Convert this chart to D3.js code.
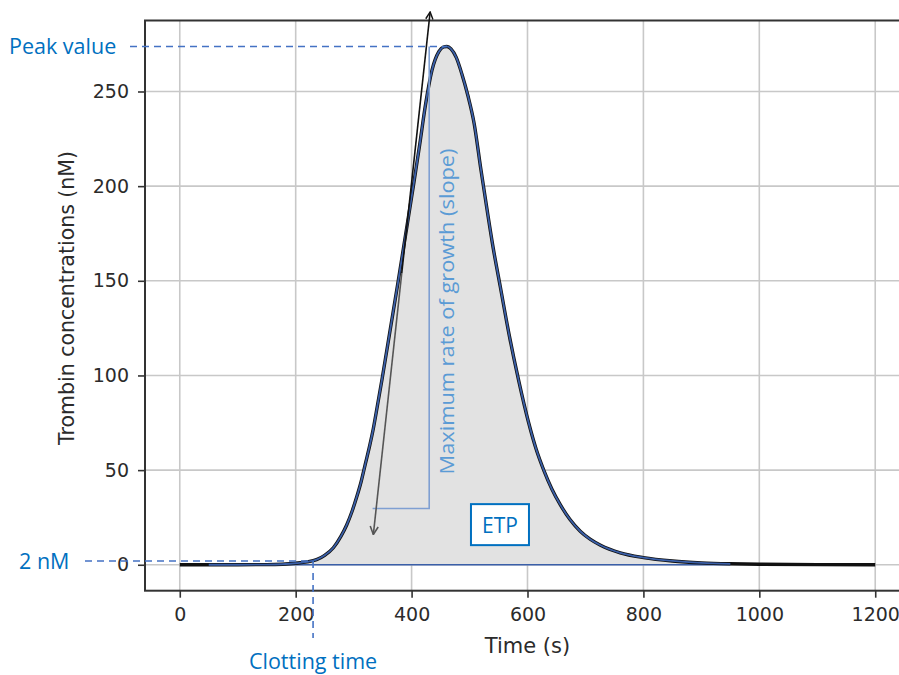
<!DOCTYPE html>
<html>
<head>
<meta charset="utf-8">
<script src="https://cdn.jsdelivr.net/npm/d3@7"></script>
<style>
  body { margin: 0; background: #fff; }
  svg { display: block; }
</style>
</head>
<body>
<div id="chart"></div>
<script>
// thrombin generation curve
const timeS = [0, 50, 100, 150, 200, 220, 236, 250, 265, 278, 288, 297, 305, 313, 320, 327, 334, 341, 349, 363, 377, 390, 403, 414, 424, 435, 447, 455, 461, 468, 477, 487, 497, 508, 519, 530, 541, 553, 568, 585, 602, 615, 628, 642, 657, 673, 691, 708, 726, 760, 800, 850, 900, 950, 1000, 1100, 1200];
const thrombin = [0, 0, 0, 0.1, 0.8, 1.5, 2.7, 5, 9, 15, 21, 28, 35.5, 44, 53, 62, 72, 84, 98, 124, 150, 175, 200, 222, 243, 261, 271, 273.5, 273.8, 272.5, 268, 259, 248, 233, 210, 188, 167, 147, 122, 97, 75, 61, 50, 40, 31.5, 24, 17.7, 13.5, 10.3, 6.3, 3.8, 2, 1, 0.5, 0.25, 0.1, 0];
const xTicks = [0, 200, 400, 600, 800, 1000, 1200];
const yTicks = [0, 50, 100, 150, 200, 250];

// annotation anchors (data units)
const clottingTime = 230;
const threshold = 2;
const fitStart = 40, fitEnd = 950;

(function() {
    const W = 899, H = 675;
    const plot = {left: 145, right: 910, top: 20.5, bottom: 590.7};

    const svg = d3.select("#chart").append("svg")
        .attr("width", W).attr("height", H);

    const x = d3.scaleLinear().domain([-60, 1260]).range([plot.left, plot.right]);
    const y = d3.scaleLinear().domain([-13.7, 287.5]).range([plot.bottom, plot.top]);

    const data = timeS.map((t, i) => ({t: t, v: thrombin[i]}));
    const peak = data.reduce((a, b) => b.v > a.v ? b : a);

    const defs = svg.append("defs");
    defs.append("marker").attr("id", "arrBlack")
        .attr("viewBox", "0 0 10 10").attr("refX", 9).attr("refY", 5)
        .attr("markerWidth", 9).attr("markerHeight", 9).attr("markerUnits", "userSpaceOnUse")
        .attr("orient", "auto-start-reverse")
        .append("path").attr("d", "M1,1 L9,5 L1,9").attr("fill", "none")
        .attr("stroke", "#111").attr("stroke-width", 1.6);
    defs.append("marker").attr("id", "arrGray")
        .attr("viewBox", "0 0 10 10").attr("refX", 9).attr("refY", 5)
        .attr("markerWidth", 10).attr("markerHeight", 10).attr("markerUnits", "userSpaceOnUse")
        .attr("orient", "auto-start-reverse")
        .append("path").attr("d", "M1,1 L9,5 L1,9").attr("fill", "none")
        .attr("stroke", "#555").attr("stroke-width", 1.6);

    // grid
    svg.append("g").selectAll("line").data(xTicks).enter().append("line")
        .attr("x1", d => x(d)).attr("x2", d => x(d))
        .attr("y1", plot.top).attr("y2", plot.bottom)
        .attr("stroke", "#c8c8c8").attr("stroke-width", 1.6);
    svg.append("g").selectAll("line").data(yTicks).enter().append("line")
        .attr("x1", plot.left).attr("x2", plot.right)
        .attr("y1", d => y(d)).attr("y2", d => y(d))
        .attr("stroke", "#c8c8c8").attr("stroke-width", 1.6);

    // shaded area (ETP)
    const fitData = data.filter(d => d.t >= fitStart && d.t <= fitEnd);
    svg.append("path").datum(data.filter(d => d.t >= 200 && d.t <= fitEnd))
        .attr("fill", "#e2e2e2")
        .attr("d", d3.area().x(d => x(d.t)).y0(y(0)).y1(d => y(d.v)).curve(d3.curveMonotoneX));

    // axes
    const axFont = "'DejaVu Sans', sans-serif";
    const gx = svg.append("g").attr("transform", `translate(0,${plot.bottom})`)
        .call(d3.axisBottom(x).tickValues(xTicks).tickFormat(d3.format("d")).tickSize(7).tickPadding(10));
    const gy = svg.append("g").attr("transform", `translate(${plot.left},0)`)
        .call(d3.axisLeft(y).tickValues(yTicks).tickFormat(d3.format("d")).tickSize(7).tickPadding(9));
    [gx, gy].forEach(g => {
        g.select(".domain").remove();
        g.selectAll("line").attr("stroke", "#333").attr("stroke-width", 1.6);
        g.selectAll("text").attr("fill", "#2b2b2b").style("font-family", axFont).style("font-size", "19px");
    });
    // spines (right one falls outside the picture)
    svg.append("rect").attr("x", plot.left).attr("y", plot.top)
        .attr("width", plot.right - plot.left).attr("height", plot.bottom - plot.top)
        .attr("fill", "none").attr("stroke", "#333").attr("stroke-width", 2);

    svg.append("text").attr("x", (plot.left + plot.right) / 2).attr("y", 653)
        .attr("text-anchor", "middle").attr("fill", "#2b2b2b")
        .style("font-family", axFont).style("font-size", "21px").text("Time (s)");
    svg.append("text")
        .attr("transform", `translate(74,298) rotate(-90)`)
        .attr("text-anchor", "middle").attr("fill", "#2b2b2b")
        .style("font-family", axFont).style("font-size", "20.5px").text("Trombin concentrations (nM)");

    // baseline + curves
    svg.append("line").attr("x1", x(fitStart)).attr("x2", x(fitEnd))
        .attr("y1", y(0)).attr("y2", y(0)).attr("stroke", "#3a5fa8").attr("stroke-width", 1.5);
    const line = d3.line().x(d => x(d.t)).y(d => y(d.v)).curve(d3.curveMonotoneX);
    svg.append("path").datum(data).attr("fill", "none")
        .attr("stroke", "#111").attr("stroke-width", 3.4).attr("d", line);
    svg.append("path").datum(fitData).attr("fill", "none")
        .attr("stroke", "#3a5fa8").attr("stroke-width", 1.8).attr("d", line);

    // annotations
    const blue = "#0070c0", dash = "#4472c4", pale = "#7f9fd2";
    const ann = "'Open Sans', sans-serif";

    // peak value
    svg.append("line").attr("x1", 130).attr("x2", x(peak.t))
        .attr("y1", y(peak.v)).attr("y2", y(peak.v))
        .attr("stroke", dash).attr("stroke-width", 1.6).attr("stroke-dasharray", "7,5");
    svg.append("text").attr("x", 9).attr("y", y(peak.v) + 8).attr("fill", blue)
        .style("font-family", ann).style("font-size", "21.5px").text("Peak value");

    // 2 nM and clotting time
    svg.append("line").attr("x1", 85).attr("x2", x(clottingTime))
        .attr("y1", y(threshold)).attr("y2", y(threshold))
        .attr("stroke", dash).attr("stroke-width", 1.6).attr("stroke-dasharray", "7,5");
    svg.append("text").attr("x", 19).attr("y", y(threshold) + 8).attr("fill", blue)
        .style("font-family", ann).style("font-size", "21.5px").text("2 nM");
    svg.append("line").attr("x1", x(clottingTime)).attr("x2", x(clottingTime))
        .attr("y1", y(threshold)).attr("y2", 638)
        .attr("stroke", dash).attr("stroke-width", 1.6).attr("stroke-dasharray", "7,5");
    svg.append("text").attr("x", x(clottingTime)).attr("y", 669).attr("text-anchor", "middle")
        .attr("fill", blue).style("font-family", ann).style("font-size", "21.5px").text("Clotting time");

    // slope bracket + label
    svg.append("path").attr("fill", "none").attr("stroke", pale).attr("stroke-width", 1.6)
        .attr("d", `M${x(430.4)},${y(peak.v)} V${y(29.7)} H${x(332.7)}`);
    svg.append("text")
        .attr("transform", `translate(${x(461) + 7},${y(133.8)}) rotate(-90)`)
        .attr("text-anchor", "middle").attr("fill", "#5b9bd5")
        .style("font-family", ann).style("font-size", "20px")
        .attr("textLength", 326).attr("lengthAdjust", "spacingAndGlyphs")
        .text("Maximum rate of growth (slope)");

    // tangent arrow
    const a0 = {t: 334, v: 16}, a1 = {t: 432, v: 292};
    const am = {t: (a0.t + a1.t) / 2, v: (a0.v + a1.v) / 2};
    svg.append("line").attr("x1", x(am.t)).attr("y1", y(am.v)).attr("x2", x(a0.t)).attr("y2", y(a0.v))
        .attr("stroke", "#555").attr("stroke-width", 1.6).attr("marker-end", "url(#arrGray)");
    svg.append("line").attr("x1", x(am.t)).attr("y1", y(am.v)).attr("x2", x(a1.t)).attr("y2", y(a1.v))
        .attr("stroke", "#111").attr("stroke-width", 1.6).attr("marker-end", "url(#arrBlack)");

    // ETP box
    const ex = x(552.5), ey = y(21.2);
    svg.append("rect").attr("x", ex - 29).attr("y", ey - 20.5).attr("width", 58).attr("height", 41)
        .attr("fill", "#fff").attr("stroke", blue).attr("stroke-width", 2);
    svg.append("text").attr("x", ex).attr("y", ey + 8).attr("text-anchor", "middle")
        .attr("fill", blue).style("font-family", ann).style("font-size", "21px").text("ETP");
})();
</script>
</body>
</html>
